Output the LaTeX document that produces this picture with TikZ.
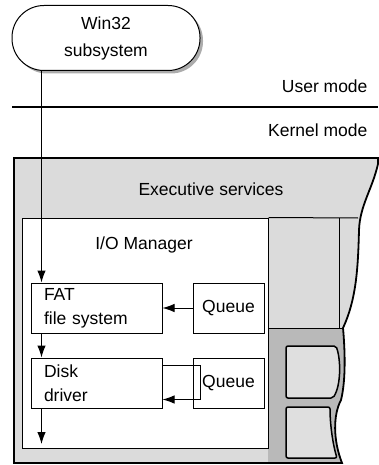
\documentclass[tikz,border=0pt]{standalone}
\usepackage{fontspec}
\setmainfont{Liberation Sans}
\usetikzlibrary{positioning, calc, arrows.meta, shadows}

\begin{document}
\begin{tikzpicture}[x=1pt, y=-1pt,
  txt/.style={font=\fontsize{17.5}{24}\selectfont},
  box/.style={draw, line width=1pt, fill=white, txt, minimum height=50pt},
  arr/.style={line width=1pt, -{Latex[length=12pt, width=8.5pt]}}]
  \newcommand\drvboxw{105pt} % text width inside driver boxes
  \newcommand\queueboxw{71pt}
  \newcommand\arroff{11pt}

  \useasboundingbox (0,0) rectangle (378,465);

  % user / kernel split
  \node[draw, line width=1pt, fill=white, txt, align=center, rounded corners=32pt,
        minimum width=188pt, minimum height=65pt,
        drop shadow={shadow xshift=3pt, shadow yshift=-3pt, fill=gray!65, opacity=1}]
        at (106,38) (win32) {Win32\\[3pt]subsystem};
  \draw[line width=2pt] (12,107) -- (378,107);
  \node[txt, anchor=east] at (371,86) (usermode) {User mode};
  \node[txt, anchor=east] at (371,130) (kernelmode) {Kernel mode};

  % executive services area, torn off at the right
  \newcommand\execpath{(14,158) -- (378,158) -- (378,164)
    .. controls (372,190) and (360,205) .. (359,230)
    .. controls (358,270) and (356,300) .. (343,328)
    .. controls (345,350) and (346,380) .. (341,400)
    .. controls (333,415) and (333,440) .. (342,463) -- (14,463) -- cycle}
  \fill[gray!28] \execpath;
  \begin{scope}
    \clip \execpath;
    \fill[gray!55] (268,328) rectangle (378,465);
  \end{scope}
  \draw[line width=1.8pt] \execpath;
  \node[txt] at (211,189) (execsvc) {Executive services};

  \node[draw, line width=1pt, fill=white, minimum width=246pt, minimum height=230pt]
        at (145,333) (iomgr) {};
  \node[txt] at (144,245) (iomgrlbl) {I/O Manager};

  % other executive components
  \draw[line width=1pt] (iomgr.north east) -- (358,218);
  \draw[line width=1pt] (339,218) -- (339,328);
  \draw[line width=1pt] (iomgr.east |- 0,328) -- (344,328);
  \draw[line width=1.5pt, fill=gray!25, rounded corners=2pt] (286,346) -- (336,346)
    .. controls (341,360) and (341,385) .. (333,398) -- (286,398) -- cycle;
  \draw[line width=1.5pt, fill=gray!25, rounded corners=2pt] (286,407) -- (330,407)
    .. controls (330,425) and (333,445) .. (337,458) -- (286,458) -- cycle;

  % driver stack
  \node[box, text width=\drvboxw, align=left, inner xsep=13pt] at (96.5,308) (fat) {FAT\\file system};
  \node[box, minimum width=\queueboxw, right=30pt of fat] (queue1) {Queue};
  \node[box, text width=\drvboxw, align=left, inner xsep=13pt, below=24pt of fat] (disk) {Disk\\driver};
  \node[box, minimum width=\queueboxw, right=30pt of disk] (queue2) {Queue};
  \coordinate (diskout) at ([xshift=\arroff]disk.south west |- 0,444);

  \draw[arr] ([xshift=\arroff]fat.north west |- win32.south) -- ([xshift=\arroff]fat.north west);
  \draw[arr] (queue1.west) -- (fat.east);
  \draw[arr] ([xshift=\arroff]fat.south west) -- ([xshift=\arroff]disk.north west);
  \draw[arr] ([yshift=-8pt]disk.north east) -| ([xshift=8pt, yshift=9pt]queue2.south west)
    -- ([yshift=9pt]disk.south east);
  \draw[arr] ([xshift=\arroff]disk.south west) -- (diskout);
\end{tikzpicture}
\end{document}
